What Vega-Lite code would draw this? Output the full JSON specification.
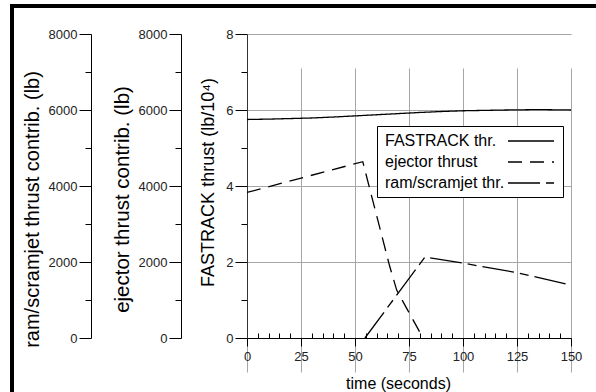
{
  "$schema": "https://vega.github.io/schema/vega-lite/v6.json",
  "width": 592,
  "height": 394,
  "autosize": "none",
  "padding": {"left": 12, "top": 6, "right": -8, "bottom": -8},
  "background": "white",
  "config": {
    "view": {"stroke": "#000", "strokeWidth": 4},
    "font": "Liberation Sans",
    "axis": {
      "labelFont": "Liberation Sans",
      "titleFont": "Liberation Sans",
      "titleFontWeight": "normal",
      "labelColor": "#222",
      "titleColor": "#000",
      "domainColor": "#000",
      "tickColor": "#000",
      "labelFontSize": 13,
      "labelFlush": false,
      "labelOverlap": false,
      "gridColor": "#a6a6a6"
    },
    "legend": {"labelFont": "Liberation Sans", "labelFontSize": 16, "labelColor": "#000"}
  },
  "data": {
    "values": [
      {"series": "FASTRACK thr.", "t": 0, "thrust": 5.75},
      {"series": "FASTRACK thr.", "t": 10, "thrust": 5.76},
      {"series": "FASTRACK thr.", "t": 20, "thrust": 5.775},
      {"series": "FASTRACK thr.", "t": 30, "thrust": 5.79},
      {"series": "FASTRACK thr.", "t": 40, "thrust": 5.815},
      {"series": "FASTRACK thr.", "t": 50, "thrust": 5.845},
      {"series": "FASTRACK thr.", "t": 60, "thrust": 5.875},
      {"series": "FASTRACK thr.", "t": 70, "thrust": 5.905},
      {"series": "FASTRACK thr.", "t": 80, "thrust": 5.935},
      {"series": "FASTRACK thr.", "t": 90, "thrust": 5.96},
      {"series": "FASTRACK thr.", "t": 100, "thrust": 5.98},
      {"series": "FASTRACK thr.", "t": 110, "thrust": 5.99},
      {"series": "FASTRACK thr.", "t": 120, "thrust": 6.0},
      {"series": "FASTRACK thr.", "t": 135, "thrust": 6.01},
      {"series": "FASTRACK thr.", "t": 150, "thrust": 6.0},
      {"series": "ejector thrust", "t": 0, "thrust": 3830},
      {"series": "ejector thrust", "t": 53.6, "thrust": 4640},
      {"series": "ejector thrust", "t": 66, "thrust": 1900},
      {"series": "ejector thrust", "t": 69.3, "thrust": 1260},
      {"series": "ejector thrust", "t": 81.5, "thrust": 0},
      {"series": "ram/scramjet thr.", "t": 54.6, "thrust": 0},
      {"series": "ram/scramjet thr.", "t": 82.4, "thrust": 2130},
      {"series": "ram/scramjet thr.", "t": 100, "thrust": 1970},
      {"series": "ram/scramjet thr.", "t": 125, "thrust": 1720},
      {"series": "ram/scramjet thr.", "t": 150, "thrust": 1390}
    ]
  },
  "encoding": {
    "x": {
      "field": "t",
      "type": "quantitative",
      "scale": {"domain": [0, 150], "range": [235, 559], "nice": false, "zero": false},
      "axis": {
        "orient": "bottom",
        "offset": -62,
        "values": [0, 5, 10, 15, 20, 25, 30, 35, 40, 45, 50, 55, 60, 65, 70, 75, 80, 85, 90, 95, 100, 105, 110, 115, 120, 125, 130, 135, 140, 145, 150],
        "labelExpr": "datum.value % 25 == 0 ? datum.label : ''",
        "labelPadding": 4,
        "tickSize": {"condition": {"test": "datum.value % 25 == 0", "value": 8}, "value": -5},
        "grid": true,
        "gridOpacity": {"condition": {"test": "datum.value % 25 == 0", "value": 1}, "value": 0},
        "title": "time (seconds)",
        "titleFontSize": 16,
        "titleX": 386,
        "titleY": 50,
        "titleBaseline": "alphabetic",
        "titleAlign": "center"
      }
    }
  },
  "layer": [
    {
      "transform": [{"filter": "datum.series == 'FASTRACK thr.'"}],
      "mark": {"type": "line", "color": "#000", "strokeWidth": 1.3},
      "encoding": {
        "y": {
          "field": "thrust",
          "type": "quantitative",
          "scale": {"domain": [0, 8], "range": [332, 28], "nice": false, "zero": false},
          "axis": {
            "orient": "left",
            "offset": -235,
            "values": [0, 1, 2, 3, 4, 5, 6, 7, 8],
            "labelExpr": "datum.value % 2 == 0 ? datum.label : ''",
            "labelPadding": 2,
            "tickSize": {"condition": {"test": "datum.value % 2 == 0", "value": 12}, "value": 6},
            "grid": true,
            "gridOpacity": {"condition": {"test": "datum.value % 2 == 0", "value": 1}, "value": 0},
            "domainColor": "#333",
            "title": "FASTRACK thrust (lb/10⁴)",
            "titleFontSize": 18,
            "titleAngle": -90,
            "titleX": -39,
            "titleY": 176,
            "titleBaseline": "middle",
            "titleAlign": "center"
          }
        },
        "strokeDash": {
          "field": "series",
          "type": "nominal",
          "scale": {"domain": ["FASTRACK thr.", "ejector thrust", "ram/scramjet thr."], "range": [[1, 0], [14, 8], [32, 6, 9, 6]]},
          "legend": {
            "title": null,
            "orient": "none",
            "legendX": 365,
            "legendY": 120,
            "symbolType": "M14.5,0H20.25",
            "symbolSize": 256,
            "symbolStrokeWidth": 1.3,
            "symbolStrokeColor": "#000",
            "symbolFillColor": "transparent",
            "labelOffset": -16,
            "padding": 6,
            "rowPadding": 4,
            "strokeColor": "#000",
            "fillColor": "#fff"
          }
        }
      }
    },
    {
      "transform": [{"filter": "datum.series == 'ejector thrust'"}],
      "mark": {"type": "line", "color": "#000", "strokeWidth": 1.3},
      "encoding": {
        "y": {
          "field": "thrust",
          "type": "quantitative",
          "scale": {"domain": [0, 8000], "range": [332, 28], "nice": false, "zero": false},
          "axis": {
            "orient": "left",
            "offset": -169,
            "values": [0, 1000, 2000, 3000, 4000, 5000, 6000, 7000, 8000],
            "labelExpr": "datum.value % 2000 == 0 ? datum.label : ''",
            "format": "d",
            "labelPadding": 2,
            "tickSize": {"condition": {"test": "datum.value % 2000 == 0", "value": 12}, "value": 6},
            "grid": false,
            "title": "ejector thrust contrib. (lb)",
            "titleFontSize": 20.5,
            "titleAngle": -90,
            "titleX": -59,
            "titleY": 193,
            "titleBaseline": "middle",
            "titleAlign": "center"
          }
        },
        "strokeDash": {
          "field": "series",
          "type": "nominal",
          "scale": {"domain": ["FASTRACK thr.", "ejector thrust", "ram/scramjet thr."], "range": [[1, 0], [14, 8], [32, 6, 9, 6]]}
        }
      }
    },
    {
      "transform": [{"filter": "datum.series == 'ram/scramjet thr.'"}],
      "mark": {"type": "line", "color": "#000", "strokeWidth": 1.3},
      "encoding": {
        "y": {
          "field": "thrust",
          "type": "quantitative",
          "scale": {"domain": [0, 8000], "range": [332, 28], "nice": false, "zero": false},
          "axis": {
            "orient": "left",
            "offset": -79,
            "values": [0, 1000, 2000, 3000, 4000, 5000, 6000, 7000, 8000],
            "labelExpr": "datum.value % 2000 == 0 ? datum.label : ''",
            "format": "d",
            "labelPadding": 2,
            "tickSize": {"condition": {"test": "datum.value % 2000 == 0", "value": 12}, "value": 6},
            "grid": false,
            "title": "ram/scramjet thrust contrib. (lb)",
            "titleFontSize": 20,
            "titleAngle": -90,
            "titleX": -59,
            "titleY": 203,
            "titleBaseline": "middle",
            "titleAlign": "center"
          }
        },
        "strokeDash": {
          "field": "series",
          "type": "nominal",
          "scale": {"domain": ["FASTRACK thr.", "ejector thrust", "ram/scramjet thr."], "range": [[1, 0], [14, 8], [32, 6, 9, 6]]}
        }
      }
    },
    {
      "data": {"values": [{"edge": "top"}]},
      "mark": {"type": "rule", "color": "#000", "strokeWidth": 1.2},
      "encoding": {
        "x": {"datum": 0},
        "x2": {"datum": 150},
        "y": {"datum": 8, "type": "quantitative", "scale": {"domain": [0, 8], "range": [332, 28], "nice": false, "zero": false}, "axis": null}
      }
    }
  ],
  "resolve": {"scale": {"y": "independent"}, "axis": {"y": "independent"}}
}
